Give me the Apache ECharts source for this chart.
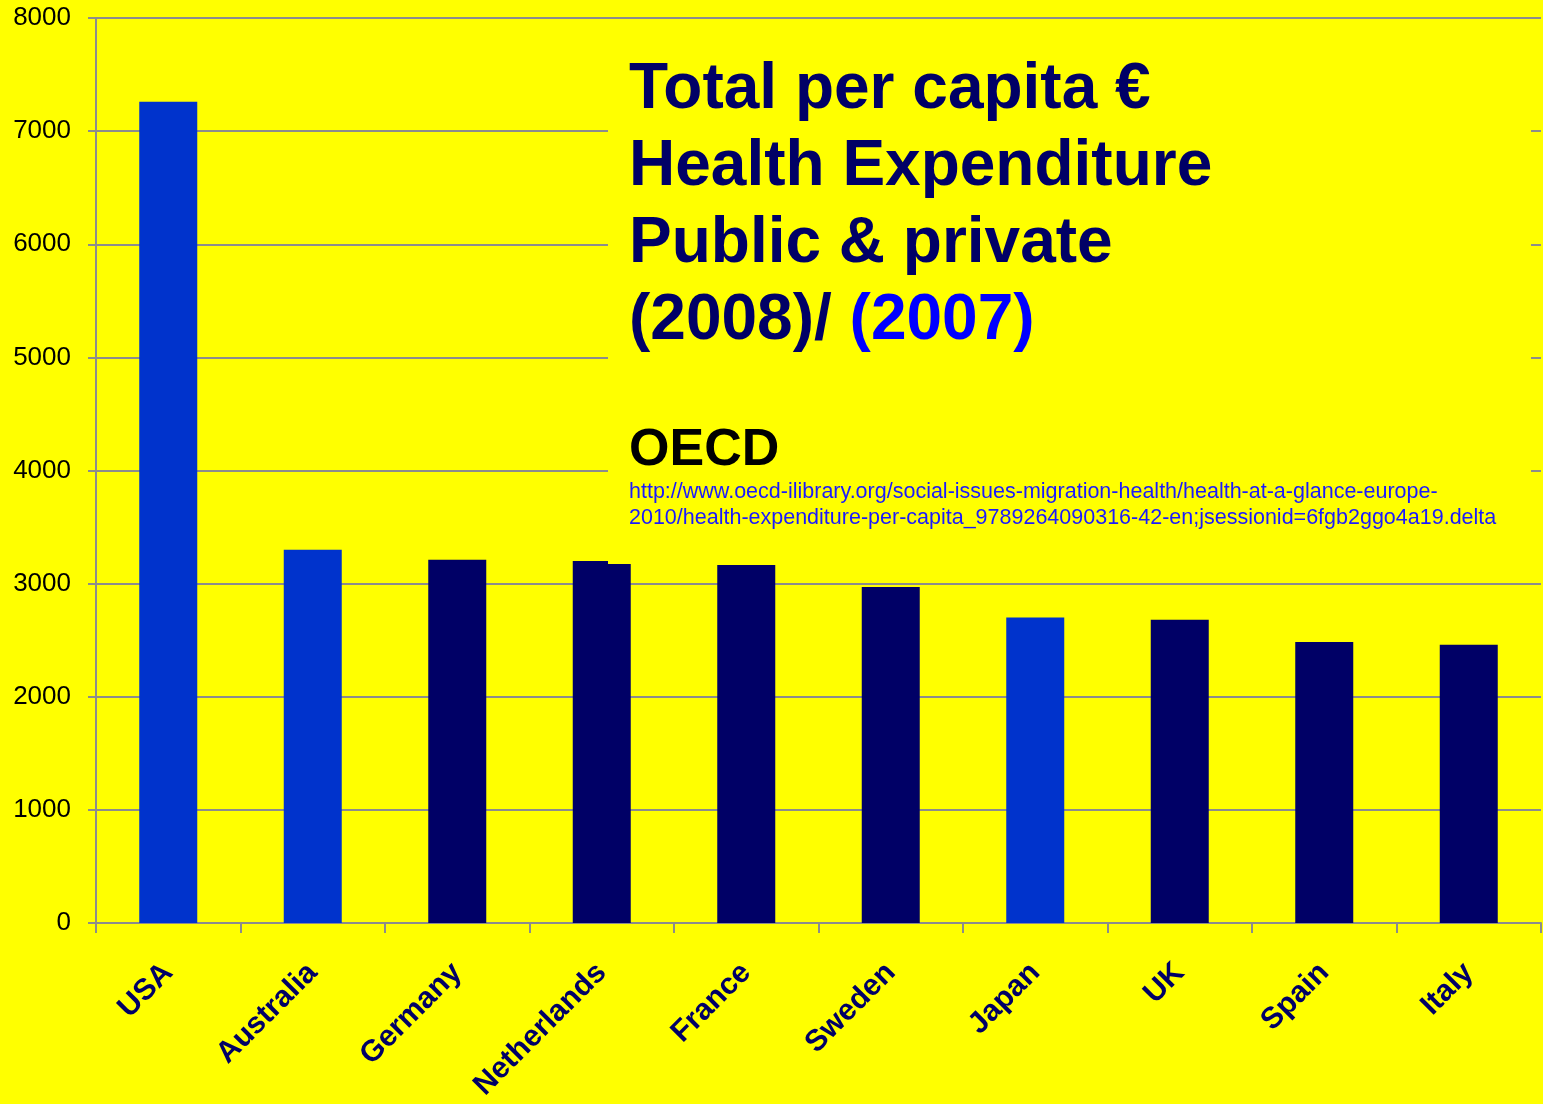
<!DOCTYPE html>
<html>
<head>
<meta charset="utf-8">
<script src="https://cdn.jsdelivr.net/npm/echarts@6/dist/echarts.min.js"></script>
<style>
html,body{margin:0;padding:0;background:#ffff00;}
#chart{width:1543px;height:1104px;}
</style>
</head>
<body>
<div id="chart"></div>
<script>
const countries = ['USA','Australia','Germany','Netherlands','France','Sweden','Japan','UK','Spain','Italy'];
const spending = [7260, 3300, 3210, 3200, 3165, 2970, 2700, 2680, 2485, 2460];
const dataYear = [2007, 2007, 2008, 2008, 2008, 2008, 2007, 2008, 2008, 2008];
const yTicks = [0, 1000, 2000, 3000, 4000, 5000, 6000, 7000, 8000];

const yearColor = {2007: '#0033cc', 2008: '#000066'};

const chart = echarts.init(document.getElementById('chart'));
chart.setOption({
  backgroundColor: '#ffff00',
  animation: false,
  grid: {left: 96, right: 2, top: 18, bottom: 181, containLabel: false},
  xAxis: {
    type: 'category',
    data: countries,
    axisLine: {lineStyle: {color: '#8c8c8c', width: 2}},
    axisTick: {show: true, length: 10, lineStyle: {color: '#8c8c8c', width: 2}},
    axisLabel: {
      rotate: 45, interval: 0, margin: 45,
      color: '#000066', fontFamily: '"Liberation Sans", Arial', fontWeight: 'bold', fontSize: 30
    }
  },
  yAxis: {
    type: 'value',
    min: yTicks[0], max: yTicks[yTicks.length - 1], interval: 1000,
    axisLine: {show: true, lineStyle: {color: '#8c8c8c', width: 2}},
    axisTick: {show: true, length: 8, lineStyle: {color: '#8c8c8c', width: 2}},
    splitLine: {show: true, lineStyle: {color: '#8c8c8c', width: 2}},
    axisLabel: {
      color: '#000000', fontFamily: '"Liberation Sans", Arial', fontSize: 26, margin: 25,
      formatter: v => String(v)
    }
  },
  series: [{
    type: 'bar',
    barWidth: 58,
    data: spending.map((v, i) => ({value: v, itemStyle: {color: yearColor[dataYear[i]]}})),
    z: 2
  }],
  graphic: [
    {type: 'rect', z: 50, shape: {x: 608, y: 30, width: 923, height: 534}, style: {fill: '#ffff00'}},
    {type: 'text', z: 60, left: 629, top: 52, style: {
      text: 'Total per capita €\nHealth Expenditure\nPublic & private\n{a|(2008)/ }{b|(2007)}',
      font: 'bold 64px "Liberation Sans", Arial',
      fill: '#000066',
      lineHeight: 77,
      rich: {
        a: {font: 'bold 64px "Liberation Sans", Arial', fill: '#000066', lineHeight: 77},
        b: {font: 'bold 64px "Liberation Sans", Arial', fill: '#0000ff', lineHeight: 77}
      }
    }},
    {type: 'text', z: 60, left: 629, top: 425, style: {
      text: 'OECD', font: 'bold 52px "Liberation Sans", Arial', fill: '#000000'
    }},
    {type: 'text', z: 60, left: 629, top: 479, style: {
      text: 'http://www.oecd-ilibrary.org/social-issues-migration-health/health-at-a-glance-europe-\n2010/health-expenditure-per-capita_9789264090316-42-en;jsessionid=6fgb2ggo4a19.delta',
      font: '21.5px "Liberation Sans", Arial', fill: '#1a1aff', lineHeight: 26
    }}
  ]
});
</script>
</body>
</html>
